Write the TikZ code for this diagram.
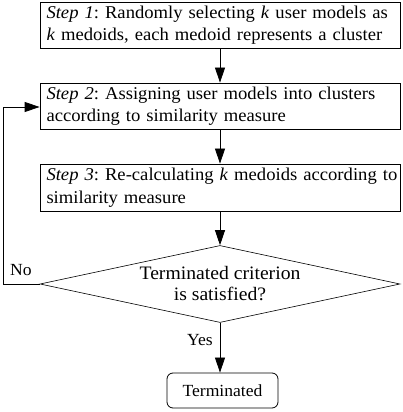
\documentclass[tikz,border=0pt]{standalone}
\usepackage{fontspec}
\setmainfont{Liberation Serif}[FakeStretch=1.035]
\usetikzlibrary{shapes.geometric,arrows.meta}
\begin{document}
\frenchspacing
\begin{tikzpicture}[x=1pt,y=1pt,
  font=\fontsize{17}{21}\selectfont,
  stepbox/.style={draw,line width=0.8pt,minimum width=360pt,text width=347pt,align=left,inner xsep=6.5pt,inner ysep=2pt,anchor=center,font=\fontsize{18}{22.5}\selectfont},
  flow/.style={-{Triangle[length=15pt,width=10pt]},line width=0.8pt},
  dec/.style={draw,diamond,aspect=4.6,line width=0.6pt,minimum width=360pt,minimum height=77pt,inner sep=0pt,align=center,font=\fontsize{19}{21}\selectfont}]
\useasboundingbox (0,0) rectangle (403,412);
\node[stepbox,minimum height=46pt] (s1) at (220,387) {\mbox{\textit{Step 1}: Randomly selecting \textit{k} user models as}\\\mbox{\textit{k} medoids, each medoid represents a cluster}};
\node[stepbox,minimum height=46pt] (s2) at (220,306) {\mbox{\textit{Step 2}: Assigning user models into clusters}\\\mbox{according to similarity measure}};
\node[stepbox,minimum height=47pt] (s3) at (220,224.5) {\mbox{\textit{Step 3}: Re-calculating \textit{k} medoids according to}\\\mbox{similarity measure}};
\node[dec] (d) at (220,128) {Terminated criterion\\is satisfied?};
\node[draw,rounded corners=6pt,line width=0.8pt,minimum width=111pt,minimum height=35pt] (t) at (222.5,21.5) {Terminated};
\coordinate (lb) at (3,128);
\coordinate (lt) at (3,305);
\node (no) at (21,142) {No};
\node (yes) at (200,72) {Yes};
\draw[flow] (s1.south -| 220,0) -- (s2.north -| 220,0);
\draw[flow] (s2.south -| 220,0) -- (s3.north -| 220,0);
\draw[flow] (s3.south -| 220,0) -- (d.north);
\draw[flow] (d.south) -- (d.south |- t.north);
\draw[flow] (d.west) -- (lb) -- (lt) -- (s2.west |- lt);
\end{tikzpicture}
\end{document}
